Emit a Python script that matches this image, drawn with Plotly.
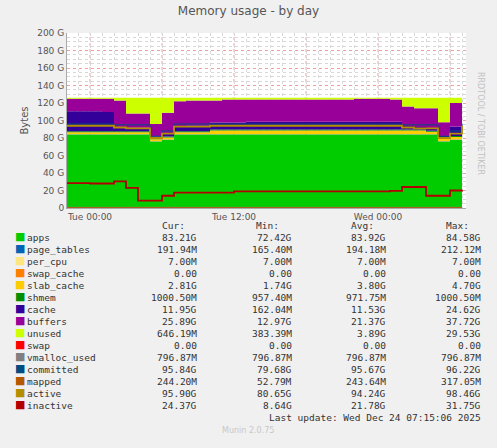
import plotly.graph_objects as go
from datetime import datetime, timedelta

## hourly samples, Mon 22:00 .. Wed 07:00
start = datetime(2025, 12, 22, 22, 0)
times = [start + timedelta(hours=i) for i in range(34)]

apps = [84, 84, 84, 84, 84, 84, 84, 76, 78, 84, 84, 84, 84, 84, 84, 84, 84, 84, 84, 84,
        84, 84, 84, 84, 84, 84, 84, 84, 84, 84, 84, 76, 78, 84]
page_tables = [0.19] * 34
per_cpu = [0.007] * 34
swap_cache = [0] * 34
slab_cache = [2.5] * 12 + [4.5] * 18 + [3] * 4
shmem = [1.0] * 34
cache = [23, 23, 23, 22, 4, 4, 4, 2, 4, 6, 7, 7, 8, 8, 8, 9, 9, 9, 9, 9,
         9, 9, 9, 9, 9, 9, 9, 9, 4, 3, 3, 2, 11, 12]
buffers = [14.3, 14.3, 14.3, 15.3, 31.3, 16.3, 16.3, 14.3, 23.3, 28.3, 28.3, 28.3, 25.3, 26.3,
           26.3, 25.3, 25.3, 25.3, 25.3, 25.3, 25.3, 25.3, 25.3, 25.3, 26.3, 26.3, 26.3, 25.3,
           22.3, 21.3, 22.8, 15.8, 26.8, 24.8]
unused = [1, 1, 1, 1, 3, 18, 18, 30, 17, 4, 3, 3, 3, 2, 2, 2, 2, 2, 2, 2,
          2, 2, 2, 2, 1, 1, 1, 2, 10, 12, 12, 28, 6, 1]
swap = [0] * 34
vmalloc_used = [0.8] * 34
committed = [96, 96, 96, 96, 95, 95, 95, 82, 88, 96, 96, 96, 96, 96, 96, 96, 96, 96, 96, 96,
             96, 96, 96, 96, 96, 96, 96, 96, 95, 95, 95, 82, 88, 96]
mapped = [0.24] * 34
active = [94, 94, 94, 94, 92, 91, 91, 80, 85, 93, 93, 93, 94, 94, 94, 94, 94, 94, 94, 94,
          94, 94, 94, 94, 94, 94, 94, 94, 92, 91, 91, 80, 85, 94]
inactive = [28.5, 28.5, 28, 28, 30.5, 23, 8.5, 8.5, 14, 17.5, 17.5, 17.5, 17.5, 17.5, 19, 19,
            19, 19, 19, 19, 19, 19, 19, 19, 19, 19, 19, 19.5, 24, 24, 14, 14, 20, 21]

names = ['apps', 'page_tables', 'per_cpu', 'swap_cache', 'slab_cache', 'shmem', 'cache',
         'buffers', 'unused', 'swap', 'vmalloc_used', 'committed', 'mapped', 'active', 'inactive']
colors = ['#00CC00', '#0066B3', '#FFE680', '#FF8000', '#FFCC00', '#008F00', '#330099',
          '#990099', '#CCFF00', '#FF0000', '#808080', '#004D80', '#B35A00', '#B38F00', '#B30000']
cur = ['83.21G', '191.94M', '7.00M', '0.00', '2.81G', '1000.50M', '11.95G', '25.89G',
       '646.19M', '0.00', '796.87M', '95.84G', '244.20M', '95.90G', '24.37G']
mins = ['72.42G', '165.40M', '7.00M', '0.00', '1.74G', '957.40M', '162.04M', '12.97G',
        '383.39M', '0.00', '796.87M', '79.68G', '52.79M', '80.65G', '8.64G']
avgs = ['83.92G', '194.18M', '7.00M', '0.00', '3.80G', '971.75M', '11.53G', '21.37G',
        '3.89G', '0.00', '796.87M', '95.67G', '243.64M', '94.24G', '21.78G']
maxs = ['84.58G', '212.12M', '7.00M', '0.00', '4.70G', '1000.50M', '24.62G', '37.72G',
        '29.53G', '0.00', '796.87M', '96.22G', '317.05M', '98.46G', '31.75G']

stacked = [apps, page_tables, per_cpu, swap_cache, slab_cache, shmem, cache, buffers, unused]
lines = [swap, vmalloc_used, committed, mapped, active, inactive]

W, H = 497, 448
L, R, T, B = 67, 31, 33, 240
PW, PH = W - L - R, H - T - B
fig = go.Figure()

for name, vals, col in zip(names[:9], stacked, colors[:9]):
    fig.add_trace(go.Scatter(x=times, y=vals, name=name, stackgroup='mem', mode='lines',
                             line=dict(width=0, color=col, shape='hv'), fillcolor=col))
for name, vals, col in zip(names[9:], lines, colors[9:]):
    fig.add_trace(go.Scatter(x=times, y=vals, name=name, mode='lines',
                             line=dict(width=1.8 if name in ('inactive', 'active') else 1,
                                       color=col, shape='hv')))

grid_minor = dict(showgrid=True, gridcolor='#D8D8D8', griddash='dot', gridwidth=1)
fig.update_layout(
    width=W, height=H, showlegend=False,
    paper_bgcolor='#F0F0F0', plot_bgcolor='#FFFFFF',
    margin=dict(l=L, r=R, t=T, b=B),
    font=dict(family='DejaVu Sans', size=9, color='#555555'),
    title=dict(text='Memory usage - by day', x=0.5, y=0.985, yanchor='top',
               font=dict(size=12, color='#555555')),
    xaxis=dict(range=[datetime(2025, 12, 22, 22, 5), datetime(2025, 12, 24, 7, 20)],
               tickvals=[datetime(2025, 12, 23, 0), datetime(2025, 12, 23, 12), datetime(2025, 12, 24, 0)],
               ticktext=['Tue 00:00', 'Tue 12:00', 'Wed 00:00'],
               showgrid=False, zeroline=False, ticks='', showline=True, linecolor='#AAAAAA',
               minor=dict(dtick=3600000, **grid_minor)),
    yaxis=dict(range=[0, 200], tickvals=list(range(0, 201, 20)),
               ticktext=['0'] + ['%d G' % v for v in range(20, 201, 20)],
               showgrid=True, gridcolor='#F0A0A0', griddash='dot', zeroline=False,
               ticks='', showline=True, linecolor='#AAAAAA',
               minor=dict(dtick=5, **grid_minor),
               title=dict(text='Bytes', font=dict(size=10), standoff=6)),
)
for h in range(0, 36, 6):
    fig.add_vline(x=datetime(2025, 12, 23) + timedelta(hours=h),
                  line=dict(color='#F0A0A0', width=1, dash='dot'), layer='below')

def px(x, y):
    ## pixel position -> plot-area paper coordinates
    return (x - L) / PW, (H - B - y) / PH

def note(xp, yp, text, font, **kw):
    x, y = px(xp, yp)
    fig.add_annotation(x=x, y=y, xref='paper', yref='paper', text=text, showarrow=False,
                       font=font, **kw)

mono = dict(family='DejaVu Sans Mono', size=9.5, color='#333333')
for label, xr in zip(['Cur:', 'Min:', 'Avg:', 'Max:'], [187, 281, 376, 471]):
    note(xr, 233, label, mono, xanchor='right')
for i, name in enumerate(names):
    yy = 245 + 12 * i
    note(13, yy, '■', dict(size=11, color=colors[i], family='DejaVu Sans'), xanchor='left')
    note(25, yy, name, mono, xanchor='left')
    for val, xr in zip([cur[i], mins[i], avgs[i], maxs[i]], [199, 294, 388, 483]):
        note(xr, yy, val, mono, xanchor='right')
note(483, 425, 'Last update: Wed Dec 24 07:15:06 2025', mono, xanchor='right')
note(248, 437, 'Munin 2.0.75', dict(family='DejaVu Sans', size=8, color='#C8C8C8'))
note(487, 70, 'RRDTOOL / TOBI OETIKER', dict(family='DejaVu Sans', size=8, color='#C0C0C0'),
     textangle=90)

fig.write_html("out.html", config={'displayModeBar': False},
               post_script="document.body.style.margin='0';")
